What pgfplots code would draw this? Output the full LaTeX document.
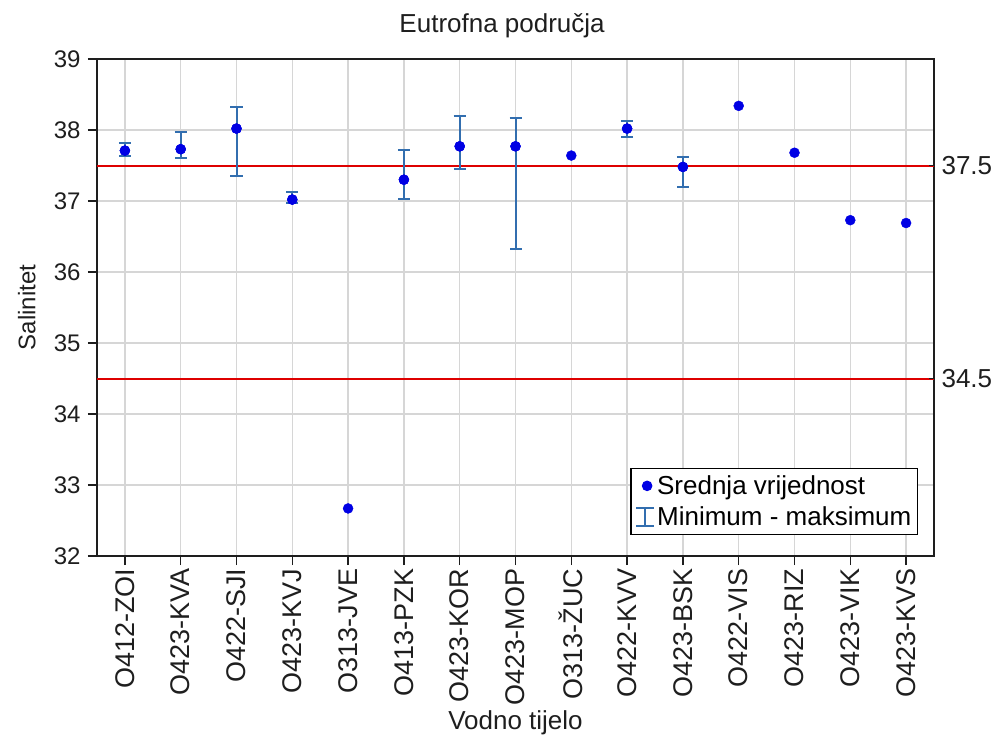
\documentclass[border=0pt]{standalone}
\usepackage{fontspec}
\setmainfont{Liberation Sans}
\usepackage{pgfplots}
\usepackage{pgfplotstable}
\pgfplotsset{compat=1.18}

\definecolor{dotblue}{RGB}{0,0,228}
\definecolor{barblue}{RGB}{50,110,175}
\definecolor{limitred}{RGB}{222,0,0}
\definecolor{gridgray}{RGB}{214,214,214}
\definecolor{inkgray}{RGB}{30,30,30}
\newcommand\fsz{\fontsize{24}{29}\selectfont}
\newcommand\fbig{\fontsize{26}{31}\selectfont}

% mean salinity per water body (x = category index)
\pgfplotstableread{
x y
0 37.71
1 37.73
2 38.02
3 37.02
4 32.67
5 37.30
6 37.77
7 37.77
8 37.64
9 38.02
10 37.48
11 38.34
12 37.68
13 36.73
14 36.69
}\means

% minimum and maximum where several samples exist
\pgfplotstableread{
x y min max
0 37.71 37.63 37.81
1 37.73 37.60 37.97
2 38.02 37.35 38.33
3 37.02 36.97 37.12
5 37.30 37.03 37.72
6 37.77 37.45 38.20
7 37.77 36.33 38.17
9 38.02 37.90 38.13
10 37.48 37.20 37.62
}\ranges

% limit values
\pgfplotstableread{
x lo hi
-0.5 34.5 37.5
14.5 34.5 37.5
}\limits

\pgfplotsset{
  common/.style={
    at={(0pt,0pt)}, anchor=south west,
    scale only axis, width=837pt, height=497pt,
    xmin=-0.5, xmax=14.5, ymin=32, ymax=39,
  },
}

\begin{document}
\begin{tikzpicture}
\path[use as bounding box] (-97pt,-189pt) rectangle (902pt,556pt);
\begin{axis}[
  common,
  xtick={0,...,14},
  xticklabels={O412-ZOI,O423-KVA,O422-SJI,O423-KVJ,O313-JVE,O413-PZK,O423-KOR,O423-MOP,O313-ŽUC,O422-KVV,O423-BSK,O422-VIS,O423-RIZ,O423-VIK,O423-KVS},
  xticklabel style={rotate=90, anchor=east, font=\fontsize{27}{32}\selectfont, text=inkgray},
  ytick={32,33,...,39},
  yticklabel style={font=\fsz, text=inkgray, xshift=-4pt},
  /pgf/number format/assume math mode=true,
  tick align=outside, xtick pos=bottom, ytick pos=left,
  major tick length=9pt,
  tick style={line width=1.5pt, inkgray},
  axis line style={line width=1.8pt, inkgray},
  grid=major, grid style={gridgray, line width=1.4pt},
  title={Eutrofna područja},
  title style={at={(0.484,1)}, anchor=base, yshift=21pt, font=\fbig, text=inkgray},
  xlabel={Vodno tijelo},
  xlabel style={at={(axis description cs:0.5,-0.335)}, anchor=center, font=\fbig, text=inkgray},
  ylabel={Salinitet},
  ylabel style={at={(axis description cs:-0.084,0.5)}, anchor=center,
    font=\fontsize{24}{29}\selectfont, text=inkgray},
  legend style={at={(0.981,0.042)}, anchor=south east, draw=black, line width=1.5pt,
    font=\fbig, inner xsep=4pt, inner ysep=5pt, row sep=7pt,
    /tikz/every even column/.append style={column sep=0pt}},
  legend cell align=left,
]
% limit lines
\addplot[draw=limitred, line width=2pt, mark=none, forget plot]
  table[x=x, y=hi] {\limits};
\addplot[draw=limitred, line width=2pt, mark=none, forget plot]
  table[x=x, y=lo] {\limits};

% min-max ranges, drawn with their means
\addplot[only marks, mark=*, mark size=5pt, draw=dotblue, fill=dotblue, forget plot,
  error bars/.cd, y dir=both, y explicit,
  error bar style={draw=barblue, line width=2pt},
  error mark options={rotate=90, draw=barblue, line width=2pt, mark size=6pt}]
  table[x=x, y=y,
        y error plus expr=\thisrow{max}-\thisrow{y},
        y error minus expr=\thisrow{y}-\thisrow{min}] {\ranges};

% mean values
\addplot[only marks, mark=*, mark size=5pt, draw=dotblue, fill=dotblue,
  legend image code/.code={
    \path[draw=none, fill=none] (0pt,-9pt) rectangle (20pt,9pt);
    \fill[dotblue] (12pt,0pt) circle (4.5pt);}]
  table[x=x, y=y] {\means};
\addlegendentry{Srednja vrijednost}

\addlegendimage{legend image code/.code={
    \path[draw=none, fill=none] (0pt,-9pt) rectangle (20pt,9pt);
    \draw[barblue, line width=1.6pt] (10pt,-9pt) -- (10pt,9pt)
      (1pt,9pt) -- (19pt,9pt) (1pt,-9pt) -- (19pt,-9pt);}}
\addlegendentry{Minimum - maksimum}
\end{axis}

% right-hand scale naming the limit values
\begin{axis}[
  common,
  axis x line=none, axis y line*=right,
  axis line style={draw=none},
  ytick={34.5,37.5}, yticklabels={34.5,37.5},
  yticklabel style={font=\fbig, text=inkgray, xshift=4pt},
  tick align=inside, major tick length=5pt,
  tick style={line width=1.5pt, inkgray},
]
\end{axis}
\end{tikzpicture}
\end{document}
